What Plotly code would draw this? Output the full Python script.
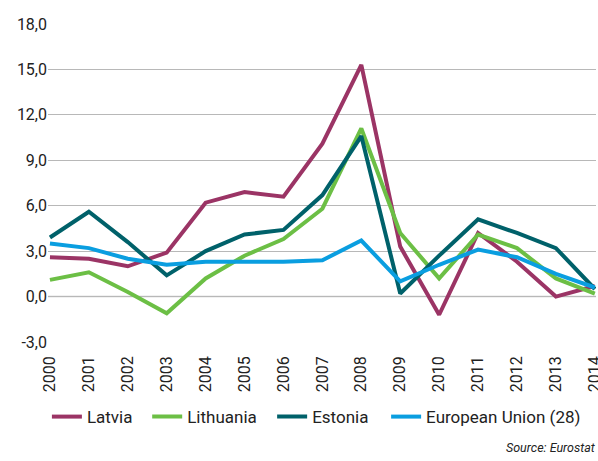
import plotly.graph_objects as go

years = list(range(2000, 2015))
latvia = [2.6, 2.5, 2.0, 2.9, 6.2, 6.9, 6.6, 10.1, 15.3, 3.3, -1.2, 4.2, 2.3, 0.0, 0.7]
lithuania = [1.1, 1.6, 0.3, -1.1, 1.2, 2.7, 3.8, 5.8, 11.1, 4.2, 1.2, 4.1, 3.2, 1.2, 0.2]
estonia = [3.9, 5.6, 3.6, 1.4, 3.0, 4.1, 4.4, 6.7, 10.6, 0.2, 2.7, 5.1, 4.2, 3.2, 0.5]
eu28 = [3.5, 3.2, 2.5, 2.1, 2.3, 2.3, 2.3, 2.4, 3.7, 1.0, 2.1, 3.1, 2.6, 1.5, 0.6]

series = [
    ("Latvia", latvia, "#9b3465", "legend"),
    ("Lithuania", lithuania, "#6cbf45", "legend2"),
    ("Estonia", estonia, "#00616a", "legend3"),
    ("European Union (28)", eu28, "#0a9ee0", "legend4"),
]

ytick_vals = [-3, 0, 3, 6, 9, 12, 15, 18]
ytick_text = ["-3,0", "0,0", "3,0", "6,0", "9,0", "12,0", "15,0", "18,0"]

FONT = "Roboto, sans-serif"
TXT = "#222222"

fig = go.Figure()
for name, vals, col, lg in series:
    fig.add_trace(go.Scatter(x=years, y=vals, name=name, mode="lines",
                             line=dict(color=col, width=4), legend=lg))

fig.add_shape(type="line", xref="paper", yref="y", x0=0, x1=1, y0=0, y1=0,
              line=dict(color="#e4e4e4", width=2), layer="below")

legend_x = {"legend": -0.002, "legend2": 0.181, "legend3": 0.409, "legend4": 0.617}
leg_common = dict(orientation="h", xanchor="left", y=-0.236, yanchor="middle",
                  font=dict(size=17, color=TXT), bgcolor="rgba(0,0,0,0)")

fig.update_layout(
    width=598, height=461,
    margin=dict(l=48, r=2, t=24, b=119, autoexpand=False),
    paper_bgcolor="white", plot_bgcolor="white",
    font=dict(family=FONT, size=16, color=TXT),
    xaxis=dict(range=[1999.95, 2014.03], tickvals=years, ticktext=[str(y) for y in years],
               tickangle=-90, showgrid=False, zeroline=False, showline=False,
               ticks="", tickfont=dict(size=16), automargin=False, ticklabelstandoff=10,
               ticklabeloverflow="allow"),
    yaxis=dict(range=[-3, 18], tickvals=ytick_vals, ticktext=ytick_text,
               showgrid=True, gridcolor="#b8b8b8", gridwidth=1, zeroline=False,
               showline=False, ticks="", tickfont=dict(size=16), automargin=False),
    legend=dict(x=legend_x["legend"], **leg_common),
    legend2=dict(x=legend_x["legend2"], **leg_common),
    legend3=dict(x=legend_x["legend3"], **leg_common),
    legend4=dict(x=legend_x["legend4"], **leg_common),
    showlegend=True,
)

fig.add_annotation(text="<i>Source: Eurostat</i>", xref="paper", yref="paper",
                   x=1.003, xanchor="right", y=-0.333, yanchor="middle", showarrow=False,
                   font=dict(size=12.5, color=TXT))

fig.write_html(
    "out.html",
    config={"displayModeBar": False},
    post_script="document.body.style.margin='0';document.documentElement.style.overflow='hidden';",
)
